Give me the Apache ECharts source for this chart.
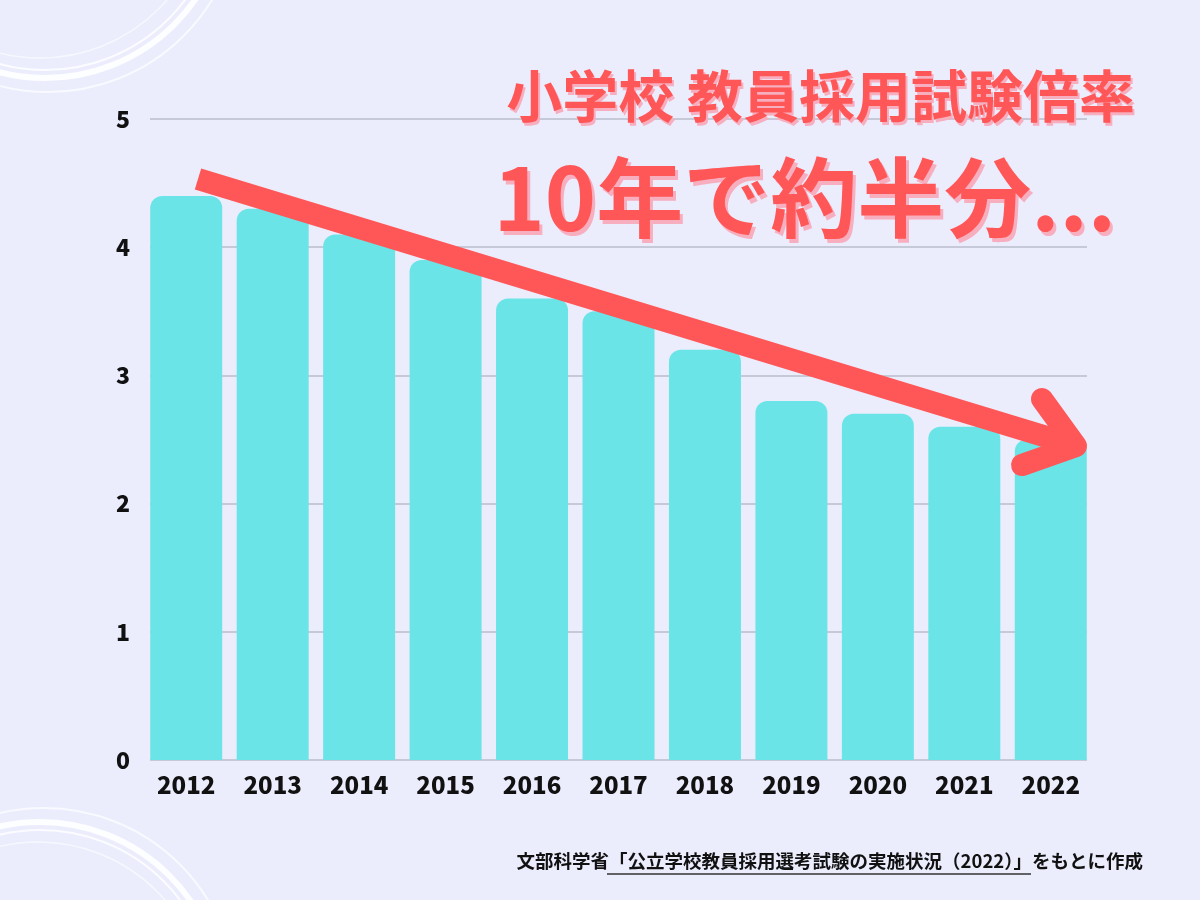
<!DOCTYPE html>
<html>
<head>
<meta charset="utf-8">
<script src="https://cdn.jsdelivr.net/npm/echarts@6/dist/echarts.min.js"></script>
<style>
html,body{margin:0;padding:0;background:#EBEDFD;}
#c{width:1200px;height:900px;}
</style>
</head>
<body>
<div id="c"></div>
<script>
const categories = ['2012','2013','2014','2015','2016','2017','2018','2019','2020','2021','2022'];
const ratioValues = [4.4, 4.3, 4.1, 3.9, 3.6, 3.5, 3.2, 2.8, 2.7, 2.6, 2.5];
const yTicks = [0, 1, 2, 3, 4, 5];

const FONT = '"Noto Sans CJK JP", "Noto Sans", sans-serif';
const RED = '#FF5757';
const SHADOW = '#F7AFC0';

function ring(cx, cy, r, w, op) {
  return {type:'circle', shape:{cx:cx, cy:cy, r:r}, silent:true, z:-1,
    style:{fill:'none', stroke:'rgba(255,255,255,'+op+')', lineWidth:w}};
}
function shadowText(text, x, y, size, dx, dy) {
  return [
    {type:'text', z:11, style:{text:text, x:x+dx, y:y+dy, textAlign:'right', textVerticalAlign:'middle',
      fill:SHADOW, font:'bold '+size+'px '+FONT}},
    {type:'text', z:12, style:{text:text, x:x, y:y, textAlign:'right', textVerticalAlign:'middle',
      fill:RED, font:'bold '+size+'px '+FONT}}
  ];
}

const chart = echarts.init(document.getElementById('c'));
chart.setOption({
  backgroundColor:'#EBEDFD',
  animation:false,
  grid:[
    {left:143, right:106, top:119, bottom:140},
    {left:150, right:113, top:119, bottom:140}
  ],
  xAxis:[
    {type:'category', data:categories, gridIndex:0,
      axisLine:{show:false}, axisTick:{show:false},
      axisLabel:{color:'#111', fontFamily:FONT, fontWeight:900, fontSize:24, margin:13}},
    {type:'value', gridIndex:1, min:0, max:1, show:false}
  ],
  yAxis:[
    {type:'value', gridIndex:0, min:yTicks[0], max:yTicks[yTicks.length-1], interval:1, show:false},
    {type:'value', gridIndex:1, min:yTicks[0], max:yTicks[yTicks.length-1], interval:1,
      axisLine:{show:false}, axisTick:{show:false},
      axisLabel:{color:'#111', fontFamily:FONT, fontWeight:900, fontSize:23, margin:20},
      splitLine:{lineStyle:{color:'#B9BCCB', width:1.5}}}
  ],
  series:[{
    type:'bar', xAxisIndex:0, yAxisIndex:0, data:ratioValues, barWidth:72,
    itemStyle:{color:'#6BE4E8', borderRadius:[12,12,0,0]}
  }],
  graphic:[
    ring(45,-105,183,6,0.9), ring(45,-105,175,2,0.8), ring(48,-100,192,2,0.7), ring(40,-110,168,1.5,0.6),
    ring(40,1005,183,6,0.9), ring(40,1005,175,2,0.8), ring(44,1000,192,2,0.7), ring(38,1010,168,1.5,0.6),
    {type:'polyline', z:10, shape:{points:[[198,179],[1070,444]]},
      style:{stroke:RED, lineWidth:22, fill:'none', lineCap:'butt'}},
    {type:'polyline', z:10, shape:{points:[[1042,399],[1076,446],[1022,465]]},
      style:{stroke:RED, lineWidth:22, fill:'none', lineCap:'round', lineJoin:'round'}}
  ].concat(
    shadowText('小学校 教員採用試験倍率', 1135, 96, 56, 2, 3),
    shadowText('10年で約半分...', 1116, 198, 87, 3, 4),
    [
      {type:'text', z:11, style:{text:'文部科学省「公立学校教員採用選考試験の実施状況（2022）」をもとに作成', x:1143, y:861,
        textAlign:'right', textVerticalAlign:'middle', fill:'#111', font:'bold 18.5px '+FONT}},
      {type:'line', z:11, shape:{x1:607, y1:874, x2:1031, y2:874}, style:{stroke:'#333', lineWidth:1.5}}
    ]
  )
});
</script>
</body>
</html>
